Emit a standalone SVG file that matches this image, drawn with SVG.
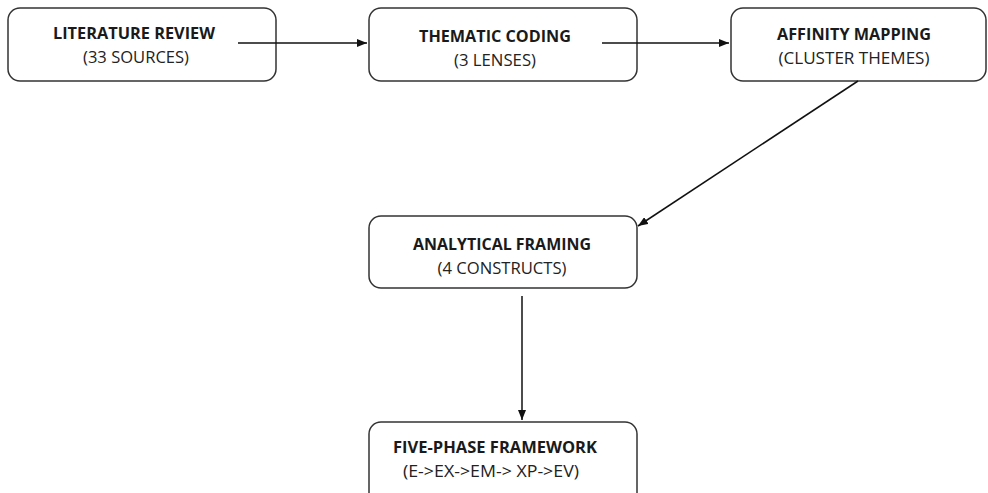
<svg xmlns="http://www.w3.org/2000/svg" width="988" height="493" viewBox="0 0 988 493">
<style>
.box{fill:#fff;stroke:#333;stroke-width:1.5}
.t{font-family:"Open Sans","Liberation Sans",sans-serif;font-size:15.5px;font-weight:bold;fill:#1a1a1a;text-anchor:middle}
.s{font-family:"Open Sans","Liberation Sans",sans-serif;font-size:15.5px;fill:#222;text-anchor:middle}
.c{stroke:#111;stroke-width:1.5;fill:none}
</style>
<defs>
<marker id="ah" markerWidth="10" markerHeight="8" refX="10" refY="4" orient="auto" markerUnits="userSpaceOnUse">
<path d="M0,0 L10,4 L0,8 Z" fill="#111"/>
</marker>
</defs>
<rect width="988" height="493" fill="#fff"/>
<g id="n1">
<rect class="box" x="8" y="8" width="268" height="73" rx="12"/>
<text class="t" x="134" y="39" textLength="162" lengthAdjust="spacingAndGlyphs">LITERATURE REVIEW</text>
<text class="s" x="136" y="63" textLength="106" lengthAdjust="spacingAndGlyphs">(33 SOURCES)</text>
</g>
<g id="n2">
<rect class="box" x="369" y="8" width="268" height="73" rx="12"/>
<text class="t" x="495" y="42" textLength="152" lengthAdjust="spacingAndGlyphs">THEMATIC CODING</text>
<text class="s" x="495" y="66" textLength="82" lengthAdjust="spacingAndGlyphs">(3 LENSES)</text>
</g>
<g id="n3">
<rect class="box" x="731" y="8" width="255" height="73" rx="12"/>
<text class="t" x="854" y="40" textLength="154" lengthAdjust="spacingAndGlyphs">AFFINITY MAPPING</text>
<text class="s" x="854" y="64" textLength="151" lengthAdjust="spacingAndGlyphs">(CLUSTER THEMES)</text>
</g>
<g id="n4">
<rect class="box" x="369" y="216" width="268" height="72" rx="12"/>
<text class="t" x="502" y="250" textLength="178" lengthAdjust="spacingAndGlyphs">ANALYTICAL FRAMING</text>
<text class="s" x="502" y="274" textLength="129" lengthAdjust="spacingAndGlyphs">(4 CONSTRUCTS)</text>
</g>
<g id="n5">
<rect class="box" x="369" y="422" width="268" height="90" rx="12"/>
<text class="t" x="495" y="453" textLength="204" lengthAdjust="spacingAndGlyphs">FIVE-PHASE FRAMEWORK</text>
<text class="s" x="491" y="477" textLength="176" lengthAdjust="spacingAndGlyphs">(E-&gt;EX-&gt;EM-&gt; XP-&gt;EV)</text>
</g>
<g id="connectors">
<line class="c" x1="238" y1="43" x2="367" y2="43" marker-end="url(#ah)"/>
<line class="c" x1="602" y1="43" x2="729" y2="43" marker-end="url(#ah)"/>
<line class="c" x1="858" y1="81" x2="638" y2="226" marker-end="url(#ah)"/>
<line class="c" x1="522" y1="296" x2="522" y2="420" marker-end="url(#ah)"/>
</g>
</svg>
